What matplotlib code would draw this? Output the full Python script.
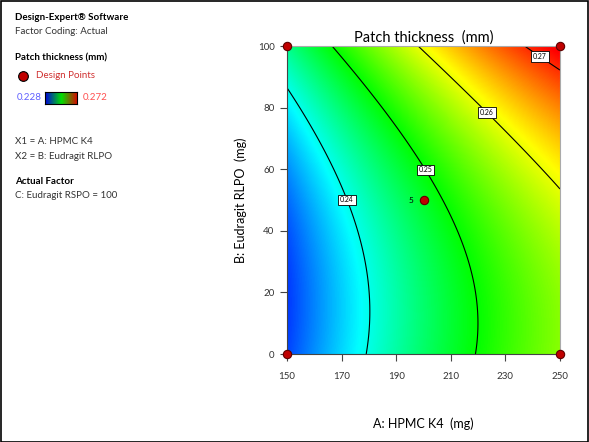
import numpy as np
import matplotlib.pyplot as plt
from matplotlib.colors import LinearSegmentedColormap

plt.rcParams['font.family'] = ['Lato', 'DejaVu Sans']

# quadratic model in coded units (x = (A-200)/50, y = (B-50)/50)
coef_names = ['b0', 'A', 'B', 'AB', 'A2', 'B2']
coef_vals = [0.24816, 0.01337, 0.00749, 0.00096, -0.00216, 0.00492]

contour_levels = [0.24, 0.25, 0.26, 0.27]
label_pos = [(172, 50), (201, 60), (224, 79), (243, 97)]

design_A = [150, 250, 150, 250, 200]
design_B = [0, 0, 100, 100, 50]
design_reps = ['', '', '', '', '5']

vmin, vmax = 0.228, 0.272
xticks = [150, 170, 190, 210, 230, 250]
yticks = [0, 20, 40, 60, 80, 100]


def model(A, B):
    x = (A - 200) / 50.0
    y = (B - 50) / 50.0
    b0, a, b, ab, a2, b2 = coef_vals
    return b0 + a * x + b * y + ab * x * y + a2 * x ** 2 + b2 * y ** 2


cmap = LinearSegmentedColormap.from_list(
    'de', ['#0000ff', '#00ffff', '#00ff00', '#ffff00', '#ff0000'])
legend_cmap = LinearSegmentedColormap.from_list(
    'de_legend', ['#0000e0', '#00e000', '#e00000'])

fig = plt.figure(figsize=(5.89, 4.42), dpi=100)
fig.patches.append(plt.Rectangle((0.001, 0.001), 0.997, 0.997, transform=fig.transFigure,
                                 fill=False, edgecolor='black', linewidth=1.2))

ax = fig.add_axes([287 / 589, 1 - 354 / 442, 273 / 589, 308 / 442])

A = np.linspace(150, 250, 300)
B = np.linspace(0, 100, 300)
AA, BB = np.meshgrid(A, B)
Z = model(AA, BB)

ax.imshow(Z, extent=[150, 250, 0, 100], origin='lower', aspect='auto',
          cmap=cmap, vmin=vmin, vmax=vmax, interpolation='bilinear')
cs = ax.contour(AA, BB, Z, levels=contour_levels, colors='black', linewidths=0.8)
labels = ax.clabel(cs, fmt='%.2f', fontsize=5, inline=False, manual=label_pos)
for t in labels:
    t.set_rotation(0)
    t.set_bbox(dict(boxstyle='square,pad=0.25', facecolor='white',
                    edgecolor='black', linewidth=0.6))

ax.plot(design_A, design_B, 'o', markersize=6, markerfacecolor='#c00000',
        markeredgecolor='#600000', markeredgewidth=0.8, clip_on=False, zorder=5)
for a, b, r in zip(design_A, design_B, design_reps):
    if r:
        ax.text(a - 3.5, b, r, fontsize=6, ha='right', va='center')

ax.set_xlim(150, 250)
ax.set_ylim(0, 100)
ax.set_xticks(xticks)
ax.set_yticks(yticks)
ax.tick_params(direction='out', length=5, width=0.8, color='#444444',
               labelsize=7, labelcolor='#333333')
ax.tick_params(axis='x', pad=8)
ax.tick_params(axis='y', pad=4)
ax.spines['left'].set_color('#444444')
ax.spines['bottom'].set_color('#444444')
ax.spines['top'].set_color('#aaaaaa')
ax.spines['right'].set_color('#aaaaaa')

ax.set_title('Patch thickness  (mm)', fontsize=10.5, pad=3)
ax.set_xlabel('A: HPMC K4  (mg)', fontsize=9, labelpad=26)
ax.set_ylabel('B: Eudragit RLPO  (mg)', fontsize=9, labelpad=8)

# side panel
def px(x, y):
    return x / 589, 1 - y / 442

fig.text(*px(15, 17), 'Design-Expert\u00ae Software', fontsize=7, weight='bold', va='center')
fig.text(*px(15, 31), 'Factor Coding: Actual', fontsize=7, color='#333333', va='center')
fig.text(*px(15, 58), 'Patch thickness (mm)', fontsize=7, weight='bold', va='center')
fig.lines.append(plt.Line2D([23 / 589], [1 - 76 / 442], transform=fig.transFigure,
                            marker='o', markersize=7, markerfacecolor='#c00000',
                            markeredgecolor='black', markeredgewidth=0.8))
fig.text(*px(36, 76), 'Design Points', fontsize=7, color='#d03030', va='center')
fig.text(*px(17, 98), '0.228', fontsize=7, color='#6060ff', va='center')
cax = fig.add_axes([45 / 589, 1 - 104 / 442, 32 / 589, 12 / 442])
cax.imshow(np.linspace(0, 1, 100)[None, :], aspect='auto', cmap=legend_cmap)
cax.set_xticks([])
cax.set_yticks([])
fig.text(*px(83, 98), '0.272', fontsize=7, color='#ff5050', va='center')
fig.text(*px(15, 141), 'X1 = A: HPMC K4', fontsize=7, color='#333333', va='center')
fig.text(*px(15, 156), 'X2 = B: Eudragit RLPO', fontsize=7, color='#333333', va='center')
fig.text(*px(15, 182), 'Actual Factor', fontsize=7, weight='bold', va='center')
fig.text(*px(15, 195), 'C: Eudragit RSPO = 100', fontsize=7, color='#333333', va='center')

fig.savefig('out.png', dpi=100)
